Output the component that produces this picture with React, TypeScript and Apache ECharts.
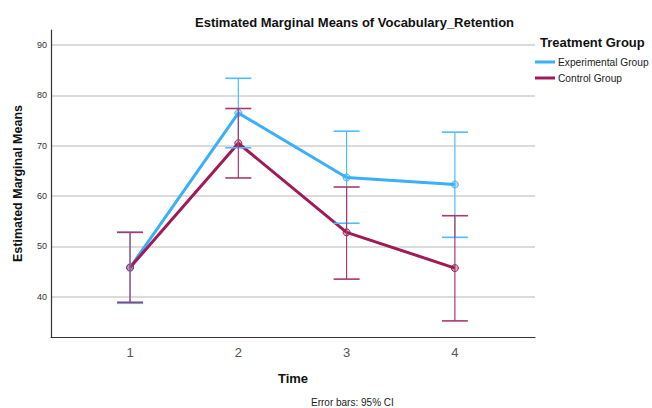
import React, { useEffect, useRef } from "react";
import * as echarts from "echarts";

const times = [1, 2, 3, 4];
const expMeans = [45.8, 76.5, 63.7, 62.3];
const expLow = [38.7, 69.6, 54.6, 51.8];
const expHigh = [52.8, 83.4, 72.9, 72.7];
const ctrlMeans = [45.8, 70.5, 52.8, 45.7];
const ctrlLow = [38.9, 63.6, 43.5, 35.2];
const ctrlHigh = [52.8, 77.4, 61.8, 56.1];
const yTicks = [40, 50, 60, 70, 80, 90];
const groups = ["Experimental Group", "Control Group"];

const BLUE = "#3aaffa";
const BLUE_BAR = "#4cbdfc";
const RED = "#a01a58";
const RED_BAR = "#a83a6c";

function errorSeries(name: string, low: number[], high: number[], color: string) {
  return {
    type: "custom",
    name: name + " CI",
    z: 3,
    silent: true,
    data: times.map((t, i) => [t, low[i], high[i]]),
    encode: { x: 0, y: [1, 2] },
    renderItem: (params: any, api: any) => {
      const x = api.value(0);
      const lo = api.coord([x, api.value(1)]);
      const hi = api.coord([x, api.value(2)]);
      const hw = 13;
      const st = { stroke: color, lineWidth: 1.2 };
      return {
        type: "group",
        children: [
          { type: "line", shape: { x1: lo[0], y1: lo[1], x2: hi[0], y2: hi[1] }, style: st },
          { type: "line", shape: { x1: lo[0] - hw, y1: lo[1], x2: lo[0] + hw, y2: lo[1] }, style: { stroke: color, lineWidth: 1.6 } },
          { type: "line", shape: { x1: hi[0] - hw, y1: hi[1], x2: hi[0] + hw, y2: hi[1] }, style: { stroke: color, lineWidth: 1.6 } },
        ],
      };
    },
  };
}

export default function App() {
  const ref = useRef<HTMLDivElement>(null);
  useEffect(() => {
    document.body.style.margin = "0";
    const chart = echarts.init(ref.current!, null, { renderer: "svg" });
    const font = "Liberation Sans, Arial, sans-serif";
    chart.setOption({
      animation: false,
      textStyle: { fontFamily: font },
      title: {
        text: "Estimated Marginal Means of Vocabulary_Retention",
        left: 190,
        top: 11,
        textStyle: { fontSize: 13, fontWeight: "bold", color: "#111", fontFamily: font },
      },
      grid: { left: 51, right: 117, top: 30, bottom: 71, containLabel: false },
      legend: {
        orient: "vertical",
        left: 535,
        top: 57,
        itemWidth: 20,
        itemHeight: 3,
        itemGap: 6,
        icon: "rect",
        padding: 0,
        data: [
          { name: groups[0], itemStyle: { color: BLUE, borderWidth: 0 } },
          { name: groups[1], itemStyle: { color: RED, borderWidth: 0 } },
        ],
        lineStyle: { width: 0 },
        textStyle: { fontSize: 10.2, color: "#222", padding: [0, 0, 0, -2], fontFamily: font },
      },
      graphic: [
        {
          type: "text",
          left: 540,
          top: 36,
          style: { text: "Treatment Group", font: "bold 13px " + font, fill: "#111" },
        },
        {
          type: "text",
          left: 311,
          top: 397,
          style: { text: "Error bars: 95% CI", font: "10px " + font, fill: "#222" },
        },
      ],
      xAxis: {
        type: "value",
        min: 0.27,
        max: 4.74,
        name: "Time",
        nameLocation: "middle",
        nameGap: 35,
        nameTextStyle: { fontSize: 13, fontWeight: "bold", color: "#111", fontFamily: font },
        axisLine: { show: true, lineStyle: { color: "#333", width: 1.2 } },
        axisTick: { show: false, customValues: times },
        axisLabel: { customValues: times, fontSize: 13, color: "#555", margin: 9, fontFamily: font },
        splitLine: { show: false },
      },
      yAxis: {
        type: "value",
        min: 32,
        max: 93,
        name: "Estimated Marginal Means",
        nameLocation: "middle",
        nameGap: 27,
        nameTextStyle: { fontSize: 12.5, fontWeight: "bold", color: "#111", fontFamily: font },
        axisLine: { show: true, lineStyle: { color: "#333", width: 1.2 } },
        axisTick: { show: false, customValues: yTicks },
        axisLabel: { customValues: yTicks, fontSize: 9, color: "#333", margin: 4, fontFamily: font },
        splitLine: { show: true, lineStyle: { color: "#cfcfcf", width: 1.5 } },
      },
      series: [
        {
          type: "line",
          name: groups[0],
          z: 2,
          data: times.map((t, i) => [t, expMeans[i]]),
          color: BLUE,
          lineStyle: { color: BLUE, width: 3 },
          symbol: "circle",
          symbolSize: 7,
          itemStyle: { color: "rgba(58,175,250,0.35)", borderColor: BLUE, borderWidth: 1 },
        },
        {
          type: "line",
          name: groups[1],
          z: 2,
          data: times.map((t, i) => [t, ctrlMeans[i]]),
          color: RED,
          lineStyle: { color: RED, width: 3 },
          symbol: "circle",
          symbolSize: 7,
          itemStyle: { color: "rgba(160,26,88,0.35)", borderColor: RED, borderWidth: 1 },
        },
        errorSeries(groups[0], expLow, expHigh, BLUE_BAR),
        errorSeries(groups[1], ctrlLow, ctrlHigh, RED_BAR),
      ],
    });
    return () => chart.dispose();
  }, []);
  return <div ref={ref} style={{ width: 652, height: 408 }} />;
}
